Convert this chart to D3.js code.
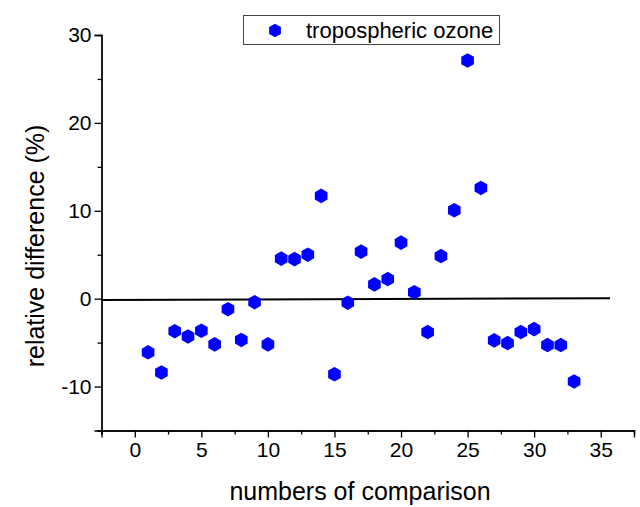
<!DOCTYPE html>
<html>
<head>
<meta charset="utf-8">
<script src="https://cdn.jsdelivr.net/npm/d3@7"></script>
<style>
  html, body { margin: 0; padding: 0; background: #fff; }
  svg { display: block; font-family: "Liberation Sans", Arial, sans-serif; }
</style>
</head>
<body>
<svg id="chart" width="640" height="507"></svg>
<script>
// Comparison index and relative difference (%) for tropospheric ozone
const comparisons = d3.range(1, 34);
const relDiff = [-6.1, -8.4, -3.7, -4.3, -3.65, -5.2, -1.2, -4.7, -0.4, -5.2,
                 4.56, 4.5, 5.0, 11.7, -8.6, -0.46, 5.35, 1.63, 2.23, 6.38,
                 0.73, -3.8, 4.85, 10.06, 27.1, 12.6, -4.75, -5.05, -3.8, -3.46,
                 -5.28, -5.28, -9.42];
// Reference (fit) line end points
const fitX = [-2.5, 35.7];
const fitY = [-0.15, 0.05];
// Axis ticks
const xTicks = [0, 5, 10, 15, 20, 25, 30, 35];
const xMinor = [-2.5, 2.5, 7.5, 12.5, 17.5, 22.5, 27.5, 32.5, 37.5];
const yTicks = [-10, 0, 10, 20, 30];
const yMinor = [-15, -5, 5, 15, 25];
const seriesName = "tropospheric ozone";

const svg = d3.select("#chart");
const x = d3.scaleLinear().domain([-2.5, 37.5]).range([101.5, 634]);
const y = d3.scaleLinear().domain([-15, 30]).range([430.5, 35]);

// Axes (plain hyphen for negative labels)
const fmt = d => String(d);
const xAxis = d3.axisBottom(x).tickValues(xTicks).tickSize(7).tickPadding(5).tickFormat(fmt);
const xAxisMinor = d3.axisBottom(x).tickValues(xMinor).tickSize(4).tickFormat("");
const yAxis = d3.axisLeft(y).tickValues(yTicks).tickSize(7).tickPadding(3).tickFormat(fmt);
const yAxisMinor = d3.axisLeft(y).tickValues(yMinor).tickSize(4).tickFormat("");

function styleAxis(g) {
  g.select(".domain").attr("stroke", "#000").attr("stroke-width", 1.3);
  g.selectAll(".tick line").attr("stroke", "#000").attr("stroke-width", 1.3);
  g.selectAll(".tick text").attr("fill", "#000").attr("font-size", 21)
    .attr("font-family", "'Liberation Sans', Arial, sans-serif");
}

svg.append("g").attr("transform", `translate(0,${y(-15)})`).call(xAxisMinor).call(styleAxis);
svg.append("g").attr("transform", `translate(0,${y(-15)})`).call(xAxis).call(styleAxis);
svg.append("g").attr("transform", `translate(${x(-2.5)},0)`).call(yAxisMinor).call(styleAxis);
svg.append("g").attr("transform", `translate(${x(-2.5)},0)`).call(yAxis).call(styleAxis);

// Axis titles
svg.append("text")
  .attr("x", 360).attr("y", 500)
  .attr("text-anchor", "middle").attr("font-size", 25).attr("fill", "#000")
  .text("numbers of comparison");
svg.append("text")
  .attr("transform", `translate(44,${246}) rotate(-90)`)
  .attr("text-anchor", "middle").attr("font-size", 25).attr("fill", "#000")
  .text("relative difference (%)");

// Reference line
svg.append("line")
  .attr("x1", x(fitX[0])).attr("y1", y(fitY[0]))
  .attr("x2", x(fitX[1])).attr("y2", y(fitY[1]))
  .attr("stroke", "#000").attr("stroke-width", 2);

// Hexagon marker (pointy top)
function hexPath(r) {
  const pts = d3.range(6).map(i => {
    const a = Math.PI / 3 * i - Math.PI / 2;
    return [r * Math.cos(a), r * Math.sin(a)];
  });
  return "M" + pts.map(p => p.join(",")).join("L") + "Z";
}

svg.append("g").selectAll("path")
  .data(comparisons.map((c, i) => ({ c, v: relDiff[i] })))
  .join("path")
  .attr("d", hexPath(7.3))
  .attr("transform", d => `translate(${x(d.c)},${y(d.v)})`)
  .attr("fill", "#0000ff");

// Legend
const legend = svg.append("g");
legend.append("rect")
  .attr("x", 243.5).attr("y", 15.5).attr("width", 256).attr("height", 29)
  .attr("fill", "#fff").attr("stroke", "#444").attr("stroke-width", 1);
legend.append("path")
  .attr("d", hexPath(6.8))
  .attr("transform", "translate(275,30.5)")
  .attr("fill", "#0000ff");
legend.append("text")
  .attr("x", 306).attr("y", 38)
  .attr("font-size", 22).attr("fill", "#000")
  .text(seriesName);
</script>
</body>
</html>
